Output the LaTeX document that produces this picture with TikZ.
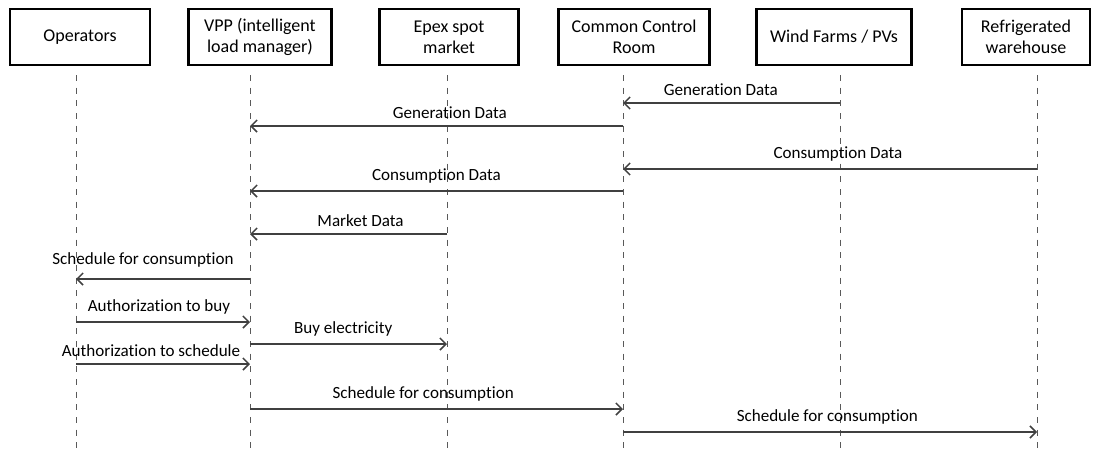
\documentclass[tikz,border=0pt]{standalone}
\usepackage{fontspec}
\setmainfont{Carlito}[Ligatures={NoCommon}]
\usetikzlibrary{arrows.meta}

\tikzset{
  actor/.style={draw=black, line width=1.8pt, minimum height=42pt, align=center, inner sep=2pt, font=\fontsize{13.5}{16}\selectfont},
  life/.style={draw=black!65, line width=0.7pt, dash pattern=on 4.5pt off 5pt},
  msg/.style={draw=black!75, line width=1.1pt, -{Straight Barb[length=4.5pt,width=9pt,line width=1.1pt]}},
  lbl/.style={font=\fontsize{12.8}{15}\selectfont, inner sep=2.5pt, above, yshift=2.5pt}
}

\begin{document}
\begin{tikzpicture}[x=0.75pt, y=-0.75pt]
\useasboundingbox (0,0) rectangle (1094,451);

% actors
\node[actor, minimum width=105pt] (op)   at (80,37)   {Operators};
\node[actor, minimum width=107pt] (vpp)  at (260,37)  {VPP (intelligent\\load manager)};
\node[actor, minimum width=104pt] (epex) at (449,37)  {Epex spot\\market};
\node[actor, minimum width=113pt] (ccr)  at (634,37)  {Common Control\\Room};
\node[actor, minimum width=116pt] (wind) at (834,37)  {Wind Farms / PVs};
\node[actor, minimum width=96pt]  (ware) at (1026,37) {Refrigerated\\warehouse};

% lifelines
\coordinate (lop)   at (76,75);
\coordinate (lvpp)  at (250,75);
\coordinate (lepex) at (447,75);
\coordinate (lccr)  at (623,75);
\coordinate (lwind) at (840,75);
\coordinate (lware) at (1037,75);
\foreach \l in {lop,lvpp,lepex,lccr,lwind,lware}{
\draw[life] (\l) -- (\l |- 0,451);
}

% messages
\draw[msg] (lwind |- 0,103) -- node[lbl, xshift=-8pt] {Generation Data} (lccr |- 0,103);
\draw[msg] (lccr |- 0,126) -- node[lbl, xshift=10pt] {Generation Data} (lvpp |- 0,126);
\draw[msg] (lware |- 0,169) -- node[lbl, xshift=6pt] {Consumption Data} (lccr |- 0,169);
\draw[msg] (lccr |- 0,191) -- node[lbl] {Consumption Data} (lvpp |- 0,191);
\draw[msg] (lepex |- 0,234) -- node[lbl, xshift=9pt] {Market Data} (lvpp |- 0,234);
\draw[msg] (lvpp |- 0,279) -- node[lbl, xshift=-15pt, yshift=3.5pt] {Schedule for consumption} (lop |- 0,279);
\draw[msg] (lop |- 0,322) -- node[lbl, xshift=-3pt] {Authorization to buy} (lvpp |- 0,322);
\draw[msg] (lvpp |- 0,344) -- node[lbl, xshift=-4pt] {Buy electricity} (lepex |- 0,344);
\draw[msg] (lop |- 0,364) -- node[lbl, xshift=-9pt] {Authorization to schedule} (lvpp |- 0,364);
\draw[msg] (lvpp |- 0,409) -- node[lbl, xshift=-10pt] {Schedule for consumption} (lccr |- 0,409);
\draw[msg] (lccr |- 0,432) -- node[lbl, xshift=-2pt] {Schedule for consumption} (lware |- 0,432);

\end{tikzpicture}
\end{document}
